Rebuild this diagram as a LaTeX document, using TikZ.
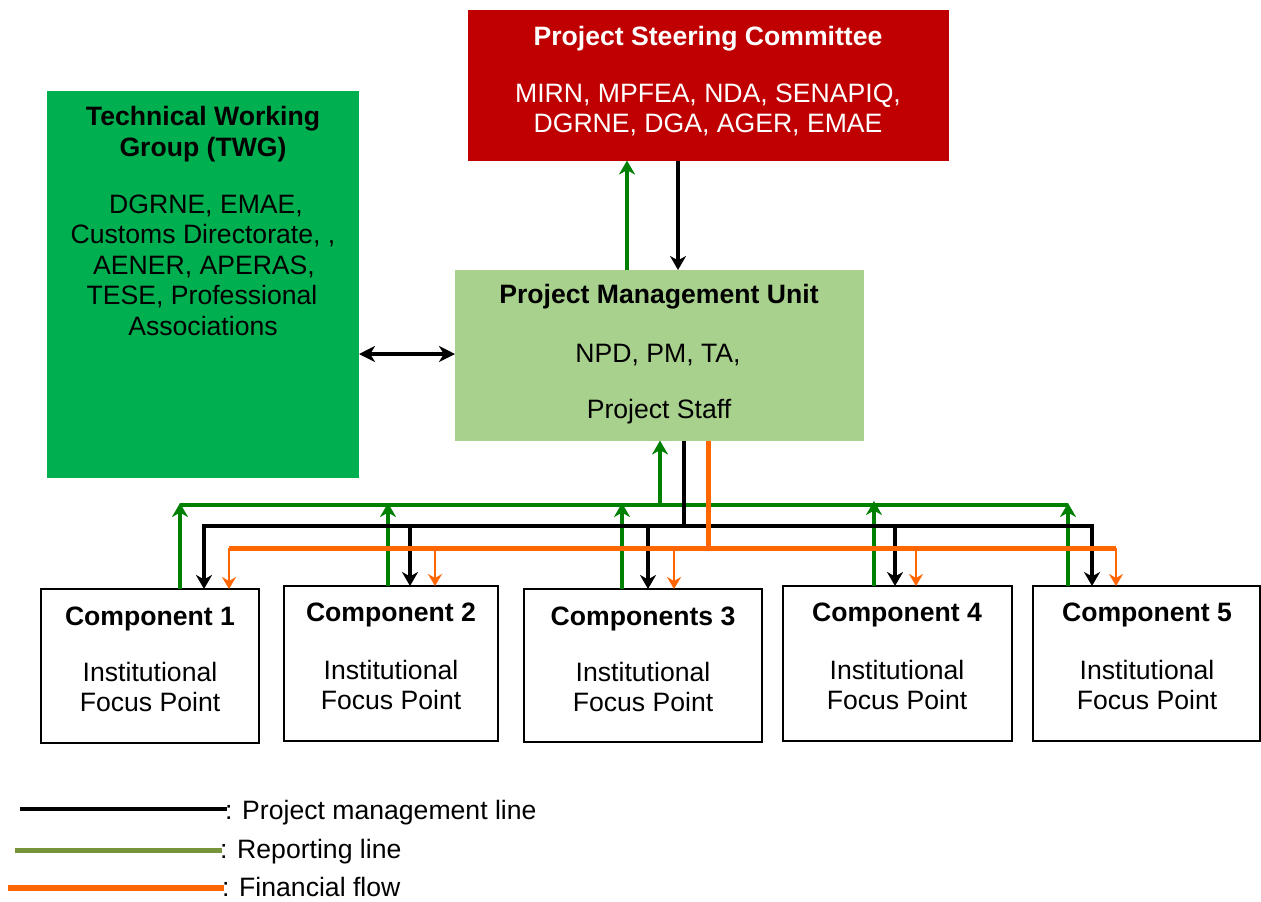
\documentclass[tikz,border=0pt]{standalone}
\usepackage{fontspec}
\setmainfont{Liberation Sans}
\usetikzlibrary{arrows.meta}
\definecolor{pscred}{HTML}{C00000}
\definecolor{twggreen}{HTML}{00B050}
\definecolor{pmugreen}{HTML}{A9D18E}
\definecolor{repgreen}{HTML}{008000}
\definecolor{legolive}{HTML}{77933C}
\definecolor{finorange}{HTML}{FF6600}

\begin{document}
\begin{tikzpicture}[x=0.5pt,y=-0.5pt,
  every node/.style={inner sep=0pt, outer sep=0pt},
  lbl/.style={anchor=base, font=\fontsize{13.3pt}{15.25pt}\selectfont},
  hd/.style={anchor=base, font=\fontsize{13.3pt}{15.25pt}\selectfont\bfseries},
  box/.style={rectangle, anchor=north west},
  compbox/.style={box, draw=black, line width=1pt, fill=white},
  mgmt/.style={draw=black, line width=2pt, line join=miter,
    >={Stealth[length=7pt,width=8pt,inset=2.2pt]}},
  rep/.style={draw=repgreen, line width=2.25pt,
    >={Stealth[length=7pt,width=8pt,inset=2.2pt]}},
  finbus/.style={draw=finorange, line width=2.5pt},
  findrop/.style={draw=finorange, line width=1.2pt,
    >={Stealth[length=6pt,width=7pt,inset=2pt]}},
  twoway/.style={draw=black, line width=2.2pt,
    >={Stealth[length=8pt,width=8pt,inset=2.4pt]}},
]
\useasboundingbox (0,0) rectangle (1261,901);

% ---- main boxes ----
\node[box, fill=pscred, minimum width=240.5pt, minimum height=75.25pt] (psc) at (468,10) {};
\node[box, fill=twggreen, minimum width=156pt, minimum height=193.5pt] (twg) at (47,91) {};
\node[box, fill=pmugreen, minimum width=204.5pt, minimum height=85.25pt] (pmu) at (455,270) {};

% ---- component boxes ----
\node[compbox, minimum width=109pt, minimum height=77pt] (c1) at (41,589) {};
\node[compbox, minimum width=107pt, minimum height=77.5pt] (c2) at (284,586) {};
\node[compbox, minimum width=119pt, minimum height=76.5pt] (c3) at (524,589) {};
\node[compbox, minimum width=114.5pt, minimum height=77.5pt] (c4) at (783,586) {};
\node[compbox, minimum width=113.5pt, minimum height=77.5pt] (c5) at (1033,586) {};

% ---- steering committee text ----
\node[hd, text=white] (psc1) at (708,45) {Project Steering Committee};
\node[lbl, text=white] (psc2) at (708,102) {MIRN, MPFEA, NDA, SENAPIQ,};
\node[lbl, text=white] (psc3) at (708,132) {DGRNE, DGA, AGER, EMAE};

% ---- working group text ----
\node[hd] (twg1) at (203,125) {Technical Working};
\node[hd] (twg2) at (203,156.5) {Group (TWG)};
\node[lbl] (twg3) at (206,213) {DGRNE, EMAE,};
\node[lbl] (twg4) at (203,243.5) {Customs Directorate, ,};
\node[lbl] (twg5) at (204,274) {AENER, APERAS,};
\node[lbl] (twg6) at (202,304.5) {TESE, Professional};
\node[lbl] (twg7) at (203,335) {Associations};

% ---- management unit text ----
\node[hd] (pmu1) at (659,303) {Project Management Unit};
\node[lbl] (pmu2) at (658,362) {NPD, PM, TA,};
\node[lbl] (pmu3) at (659,418) {Project Staff};

% ---- component text ----
\node[hd] (c1a) at (150,625) {Component 1};
\node[lbl] (c1b) at (150,681.7) {Institutional};
\node[lbl] (c1c) at (150,711.7) {Focus Point};
\node[hd] (c2a) at (391,621.7) {Component 2};
\node[lbl] (c2b) at (391,679) {Institutional};
\node[lbl] (c2c) at (391,709) {Focus Point};
\node[hd] (c3a) at (643,625) {Components 3};
\node[lbl] (c3b) at (643,681.7) {Institutional};
\node[lbl] (c3c) at (643,711.7) {Focus Point};
\node[hd] (c4a) at (897,621.7) {Component 4};
\node[lbl] (c4b) at (897,679) {Institutional};
\node[lbl] (c4c) at (897,709) {Focus Point};
\node[hd] (c5a) at (1147,621.7) {Component 5};
\node[lbl] (c5b) at (1147,679) {Institutional};
\node[lbl] (c5c) at (1147,709) {Focus Point};

% ---- links between steering committee, unit and working group ----
\coordinate (xg) at (627,0);
\coordinate (xk) at (678,0);
\coordinate (yd) at (0,354);
\draw[rep,->] (xg |- pmu.north) -- (xg |- psc.south);
\draw[mgmt,->] (xk |- psc.south) -- (xk |- pmu.north);
\draw[twoway,<->] (twg.east |- yd) -- (pmu.west |- yd);

% ---- bus positions ----
\coordinate (g1) at (180,503);  \coordinate (g2) at (388,503);
\coordinate (g3) at (622,503);  \coordinate (g4) at (874,501);
\coordinate (g5) at (1068,503); \coordinate (gp) at (660,505);
\coordinate (gl) at (180,505);  \coordinate (gr) at (1068,505);
\coordinate (k1) at (204,526);  \coordinate (k2) at (410,526);
\coordinate (k3) at (648,526);  \coordinate (k4) at (895,526);
\coordinate (k5) at (1092,526); \coordinate (kp) at (684,526);
\coordinate (o1) at (229,548);  \coordinate (o2) at (435,548);
\coordinate (o3) at (674,548);  \coordinate (o4) at (916,548);
\coordinate (o5) at (1116,548); \coordinate (op) at (708,548);

% reporting lines (up to the unit)
\draw[rep] (gl) -- (gr);
\draw[rep,->] (gp) -- (gp |- pmu.south);
\foreach \i in {1,...,5}
  \draw[rep,->] (g\i |- c\i.north) -- (g\i);

% project management lines (down to the components)
\draw[mgmt] (pmu.south -| kp) -- (kp);
\draw[mgmt,<->] (k1 |- c1.north) -- (k1) -- (k5) -- (k5 |- c5.north);
\foreach \i in {2,3,4}
  \draw[mgmt,->] (k\i) -- (k\i |- c\i.north);

% financial flow
\draw[finbus] (pmu.south -| op) -- (op);
\draw[finbus] (o1) -- (o5);
\foreach \i in {1,...,5}
  \draw[findrop,->] (o\i) -- (o\i |- c\i.north);

% ---- legend ----
\coordinate (la1) at (20,809);  \coordinate (lb1) at (227,809);
\coordinate (la2) at (15,850);  \coordinate (lb2) at (222,850);
\coordinate (la3) at (8,888);   \coordinate (lb3) at (224,888);
\draw[black, line width=2pt] (la1) -- (lb1);
\draw[legolive, line width=2.5pt] (la2) -- (lb2);
\draw[finorange, line width=3pt] (la3) -- (lb3);
\node[lbl, anchor=base west] (leg1) at (225,819) {: Project management line};
\node[lbl, anchor=base west] (leg2) at (220,858) {: Reporting line};
\node[lbl, anchor=base west] (leg3) at (222,896) {: Financial flow};
\end{tikzpicture}
\end{document}
